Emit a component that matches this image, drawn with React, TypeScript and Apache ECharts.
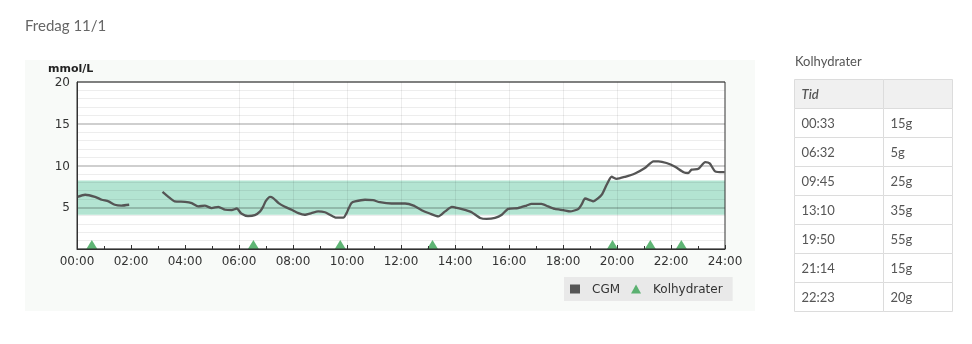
import React, { useEffect, useRef } from "react";
import * as echarts from "echarts";

// ---------- data ----------
const dayTitle = "Fredag 11/1";
const yAxisUnit = "mmol/L";
const targetLow = 4.1;
const targetHigh = 8.2;

const cgmTimes = [
  "00:01", "00:18", "00:40", "00:55", "01:10", "01:24", "01:39", "01:56",
  "02:35",
  "03:10", "03:23", "03:37", "04:00", "04:15", "04:29", "04:44", "04:59",
  "05:14", "05:29", "05:44", "05:55", "06:05", "06:20", "06:35", "06:47",
  "06:54", "06:59", "07:09", "07:16", "07:28", "07:42", "07:57", "08:12",
  "08:26", "08:41", "08:56", "09:11", "09:22", "09:36", "09:52", "09:59",
  "10:04", "10:10", "10:18", "10:40", "10:58", "11:13", "11:39", "12:09",
  "12:28", "12:46", "13:04", "13:23", "13:38", "13:53", "14:07", "14:24",
  "14:37", "14:56", "15:10", "15:29", "15:44", "15:58", "16:20", "16:39",
  "16:50", "17:12", "17:27", "17:42", "18:01", "18:16", "18:34", "18:41",
  "18:49", "19:00", "19:07", "19:26", "19:37", "19:48", "19:59", "20:18",
  "20:40", "21:02", "21:21", "21:32", "21:50", "22:09", "22:28", "22:38",
  "22:46", "23:01", "23:16", "23:26", "23:38", "23:56", "23:59",
];
const cgmValues: (number | null)[] = [
  6.24, 6.5, 6.25, 5.9, 5.7, 5.3, 5.2, 5.3,
  null,
  6.85, 6.25, 5.7, 5.65, 5.5, 5.1, 5.2, 4.9,
  5.05, 4.7, 4.65, 4.85, 4.25, 3.95, 4.05, 4.5,
  5.1, 5.7, 6.25, 6.1, 5.5, 5.05, 4.7, 4.3,
  4.1, 4.3, 4.5, 4.4, 4.1, 3.75, 3.75, 4.3,
  4.9, 5.5, 5.7, 5.9, 5.85, 5.6, 5.45, 5.45,
  5.2, 4.65, 4.25, 3.9, 4.5, 5.05, 4.9, 4.65,
  4.4, 3.72, 3.6, 3.72, 4.1, 4.8, 4.9, 5.2,
  5.4, 5.4, 5.1, 4.8, 4.65, 4.5, 4.8, 5.3,
  6.05, 5.85, 5.7, 6.5, 7.7, 8.65, 8.4, 8.65,
  9.05, 9.7, 10.5, 10.5, 10.3, 9.85, 9.2, 9.1,
  9.5, 9.6, 10.4, 10.25, 9.3, 9.2, 9.2,
];

const carbTimes = ["00:33", "06:32", "09:45", "13:10", "19:50", "21:14", "22:23"];
const carbGrams = [15, 5, 25, 35, 55, 15, 20];

const legendNames = ["CGM", "Kolhydrater"];
const tableTitle = "Kolhydrater";
const tableHeader = ["Tid", ""];
const gridHours = [6, 8, 10, 12, 14, 16, 18, 20, 22];

// ---------- layout constants ----------
const CARB_MARKER_Y = 0.55;
const GRID = { left: 77, top: 82, width: 648, height: 167 };
const TABLE = { x: 794.5, y: 79.5, colW: [89, 69], rowH: 29 };

const toHours = (s: string) => {
  const [h, m] = s.split(":").map(Number);
  return h + m / 60;
};
const pad2 = (n: number) => (n < 10 ? "0" + n : String(n));

export default function App() {
  const ref = useRef<HTMLDivElement>(null);

  useEffect(() => {
    document.body.style.margin = "0";
    if (!ref.current) return;
    const chart = echarts.init(ref.current, undefined, { renderer: "svg" });

    const cgmData = cgmTimes.map((t, i) => [toHours(t), cgmValues[i]]);
    const carbData = carbTimes.map((t, i) => ({ value: [toHours(t), CARB_MARKER_Y], grams: carbGrams[i] }));

    // table graphic
    const tableEls: any[] = [];
    const rows = [tableHeader, ...carbTimes.map((t, i) => [t, carbGrams[i] + "g"])];
    rows.forEach((row, r) => {
      let x = TABLE.x;
      row.forEach((cell, c) => {
        const w = TABLE.colW[c];
        const y = TABLE.y + r * TABLE.rowH;
        tableEls.push({
          type: "rect",
          shape: { x, y, width: w, height: TABLE.rowH },
          style: { fill: r === 0 ? "#f0f0f0" : "#ffffff", stroke: "#dcdcdc", lineWidth: 1 },
          z: 1,
        });
        if (cell) {
          tableEls.push({
            type: "text",
            style: {
              text: cell,
              x: x + 7,
              y: y + TABLE.rowH / 2,
              fill: "#555",
              font: r === 0 ? "italic 600 13px Lato" : "13px Lato",
              verticalAlign: "middle",
              align: "left",
            },
            z: 2,
          });
        }
        x += w;
      });
    });

    const option: any = {
      animation: false,
      textStyle: { fontFamily: "DejaVu Sans" },
      grid: {
        left: GRID.left,
        top: GRID.top,
        width: GRID.width,
        height: GRID.height,
        show: true,
        backgroundColor: "#ffffff",
        borderWidth: 0,
      },
      xAxis: {
        type: "value",
        min: 0,
        max: 24,
        interval: 2,
        z: 5,
        axisLine: { show: true, onZero: false, lineStyle: { color: "#333", width: 1 } },
        axisTick: { show: true, inside: true, length: 4, lineStyle: { color: "#333" } },
        minorTick: { show: true, splitNumber: 2, length: 3, lineStyle: { color: "#333" } },
        axisLabel: {
          formatter: (v: number) => pad2(v) + ":00",
          color: "#333",
          fontSize: 12,
          margin: 6,
          fontFamily: "DejaVu Sans",
        },
        splitLine: { show: false },
      },
      yAxis: {
        type: "value",
        min: 0,
        max: 20,
        interval: 5,
        z: 1.5,
        axisLine: { show: true, lineStyle: { color: "#333", width: 1 } },
        axisTick: { show: false },
        axisLabel: {
          formatter: (v: number) => (v === 0 ? "" : String(v)),
          color: "#333",
          fontSize: 12,
          margin: 7,
          fontFamily: "DejaVu Sans",
        },
        splitLine: { show: true, lineStyle: { color: "rgba(0,0,0,0.25)", width: 1.5 } },
        minorTick: { show: false, splitNumber: 5 },
        minorSplitLine: { show: true, lineStyle: { color: "rgba(0,0,0,0.07)", width: 1 } },
      },
      legend: {
        data: [
          { name: legendNames[0], icon: "rect" },
          { name: legendNames[1], icon: "triangle" },
        ],
        left: 564,
        top: 277,
        orient: "horizontal",
        backgroundColor: "#e9e9e9",
        padding: [6, 10, 6, 6],
        itemWidth: 10,
        itemHeight: 9,
        itemGap: 11,
        selectedMode: false,
        textStyle: { fontSize: 12, color: "#333", fontFamily: "DejaVu Sans", padding: [0, 0, 0, 7] },
      },
      graphic: [
        {
          type: "rect",
          shape: { x: 25, y: 60, width: 730, height: 251 },
          style: { fill: "#f8faf8" },
          z: -10,
          silent: true,
        },
        {
          type: "rect",
          shape: { x: GRID.left, y: GRID.top, width: GRID.width, height: GRID.height },
          style: { fill: "none", stroke: "#333", lineWidth: 1 },
          z: 20,
          silent: true,
        },
        {
          type: "text",
          style: { text: dayTitle, x: 25, y: 25, fill: "#666", font: "15px Lato", verticalAlign: "middle" },
        },
        {
          type: "text",
          style: { text: yAxisUnit, x: 48, y: 68, fill: "#222", font: "bold 11px 'DejaVu Sans'", verticalAlign: "middle" },
        },
        {
          type: "text",
          style: { text: tableTitle, x: 795, y: 61, fill: "#555", font: "13px Lato", verticalAlign: "middle" },
        },
        ...tableEls,
      ],
      series: [
        {
          type: "line",
          name: "target",
          data: [],
          z: 1,
          silent: true,
          markArea: {
            silent: true,
            itemStyle: { color: "rgba(65,188,143,0.4)" },
            data: [[{ yAxis: targetLow }, { yAxis: targetHigh }]],
          },
        },
        {
          type: "line",
          name: "vgrid",
          data: [],
          z: 1.6,
          silent: true,
          markLine: {
            silent: true,
            symbol: ["none", "none"],
            label: { show: false },
            lineStyle: { color: "rgba(0,0,0,0.07)", type: "solid", width: 1 },
            data: gridHours.map((h) => ({ xAxis: h })),
          },
        },
        {
          type: "line",
          name: legendNames[0],
          data: cgmData,
          showSymbol: false,
          symbol: "rect",
          smooth: 0.2,
          connectNulls: false,
          lineStyle: { color: "#555", width: 2.3 },
          itemStyle: { color: "#555" },
          z: 3,
        },
        {
          type: "scatter",
          name: legendNames[1],
          symbol: "triangle",
          symbolSize: [11, 9],
          data: carbData,
          itemStyle: { color: "#37a253" },
          z: 4,
        },
      ],
    };

    chart.setOption(option);
    return () => chart.dispose();
  }, []);

  return (
    <div
      ref={ref}
      style={{ position: "fixed", left: 0, top: 0, width: 972, height: 344 }}
    />
  );
}
